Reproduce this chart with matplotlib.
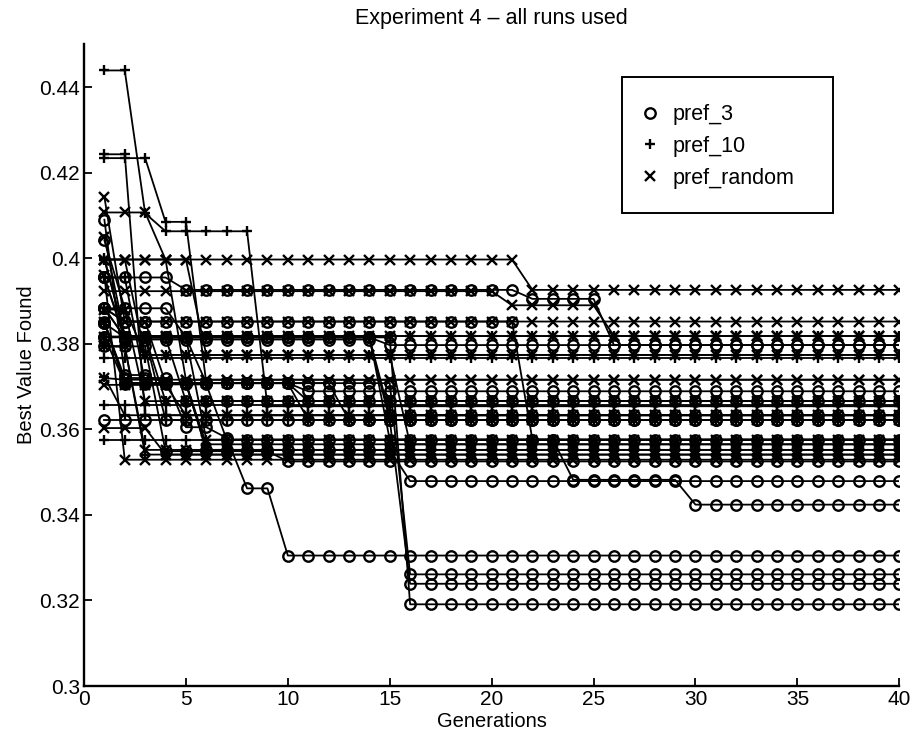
import numpy as np
import matplotlib
matplotlib.use("Agg")
import matplotlib.pyplot as plt
from matplotlib.lines import Line2D
from matplotlib.patches import Rectangle

plt.rcParams["font.family"] = ["Liberation Sans", "DejaVu Sans"]

# Каждый прогон: список (значение, сколько поколений держится)
GENERATIONS = np.arange(1, 41)

PREF_3_RUNS = [
    [(0.4090, 1), (0.3727, 2), (0.3708, 7), (0.3689, 30)],
    [(0.4042, 1), (0.3883, 3), (0.3815, 10), (0.3797, 26)],
    [(0.3955, 1), (0.3815, 13), (0.3633, 26)],
    [(0.3883, 1), (0.3852, 2), (0.3708, 9), (0.3622, 28)],
    [(0.3955, 4), (0.3926, 17), (0.3905, 4), (0.3797, 15)],
    [(0.3817, 1), (0.3815, 3), (0.3666, 36)],
    [(0.3622, 40)],
    [(0.3794, 3), (0.3549, 6), (0.3525, 31)],
    [(0.3848, 1), (0.3720, 3), (0.3605, 2), (0.3580, 1), (0.3462, 2), (0.3305, 31)],
    [(0.3883, 1), (0.3815, 4), (0.3708, 10), (0.3261, 25)],
    [(0.3955, 1), (0.3810, 13), (0.3622, 1), (0.3239, 25)],
    [(0.3848, 1), (0.3815, 14), (0.3191, 25)],
    [(0.3817, 1), (0.3708, 4), (0.3552, 10), (0.3479, 25)],
    [(0.3852, 1), (0.3705, 5), (0.3576, 17), (0.3482, 6), (0.3424, 11)],
    [(0.3883, 1), (0.3852, 20), (0.3576, 19)],
]

PREF_10_RUNS = [
    [(0.4439, 2), (0.4105, 1), (0.4063, 5), (0.3654, 32)],
    [(0.4243, 2), (0.3633, 38)],
    [(0.4234, 3), (0.4085, 2), (0.3708, 5), (0.3666, 30)],
    [(0.3657, 40)],
    [(0.3576, 40)],
    [(0.3766, 40)],
    [(0.3997, 1), (0.3818, 39)],
    [(0.3883, 1), (0.3815, 2), (0.3622, 37)],
    [(0.3955, 2), (0.3708, 3), (0.3565, 35)],
    [(0.3852, 1), (0.3708, 4), (0.3552, 35)],
    [(0.3817, 3), (0.3666, 37)],
    [(0.3723, 1), (0.3633, 39)],
    [(0.3794, 2), (0.3541, 38)],
    [(0.4000, 1), (0.3818, 13), (0.3576, 26)],
    [(0.3883, 2), (0.3774, 38)],
]

PREF_RANDOM_RUNS = [
    [(0.4143, 1), (0.3852, 39)],
    [(0.4107, 3), (0.3997, 18), (0.3926, 19)],
    [(0.3923, 20), (0.3890, 5), (0.3818, 15)],
    [(0.3997, 5), (0.3774, 35)],
    [(0.3997, 4), (0.3716, 36)],
    [(0.3720, 1), (0.3716, 39)],
    [(0.3704, 4), (0.3633, 36)],
    [(0.3603, 3), (0.3541, 37)],
    [(0.4050, 1), (0.3818, 39)],
    [(0.3880, 2), (0.3666, 38)],
    [(0.3852, 1), (0.3708, 9), (0.3622, 30)],
    [(0.3815, 5), (0.3576, 35)],
    [(0.3794, 2), (0.3552, 38)],
    [(0.3997, 2), (0.3774, 13), (0.3565, 25)],
    [(0.3960, 1), (0.3529, 39)],
]

GROUP_NAMES = ["pref_3", "pref_10", "pref_random"]
GROUP_MARKERS = ["o", "+", "x"]


def expand(run):
    """Разворачивает (значение, длина) в ряд по поколениям."""
    values = [v for v, _ in run]
    counts = [c for _, c in run]
    return np.repeat(values, counts)


fig = plt.figure(figsize=(9.13, 7.39), dpi=100)
ax = fig.add_axes([0.092, 0.0717, 0.893, 0.8683])

groups = [PREF_3_RUNS, PREF_10_RUNS, PREF_RANDOM_RUNS]
for runs, marker in zip(groups, GROUP_MARKERS):
    for run in runs:
        ax.plot(GENERATIONS, expand(run), "-", color="black", lw=1.3,
                marker=marker, ms=7.5, mfc="none", mec="black", mew=1.7)

ax.set_xlim(0, 40)
ax.set_ylim(0.3, 0.45)
ax.set_xticks(range(0, 41, 5))
ax.set_yticks([0.3, 0.32, 0.34, 0.36, 0.38, 0.4, 0.42, 0.44])
ax.set_yticklabels(["0.3", "0.32", "0.34", "0.36", "0.38", "0.4", "0.42", "0.44"])
ax.tick_params(direction="in", length=6, width=1.3, labelsize=15, pad=3)
ax.spines["top"].set_visible(False)
ax.spines["right"].set_visible(False)
ax.spines["left"].set_linewidth(1.7)
ax.spines["bottom"].set_linewidth(1.7)

ax.set_xlabel("Generations", fontsize=14.5, labelpad=2)
ax.set_ylabel("Best Value Found", fontsize=14.5, labelpad=2)
ax.set_title("Experiment 4 – all runs used", fontsize=15.5, pad=15)

# рамка легенды отдельно, чтобы совпали отступы
ax.add_patch(Rectangle((0.660, 0.7368), 0.259, 0.2118, transform=ax.transAxes,
                       facecolor="white", edgecolor="black", lw=1.4,
                       zorder=4, clip_on=False))
handles = [Line2D([], [], ls="none", marker=m, ms=7.5, mfc="none", mec="black",
                  mew=1.7, color="black") for m in GROUP_MARKERS]
leg = ax.legend(handles, GROUP_NAMES, loc="center left",
                bbox_to_anchor=(0.681, 0.841), fontsize=15.5, frameon=False,
                borderpad=0, borderaxespad=0, labelspacing=0.5,
                handletextpad=0.55, handlelength=1.0)
leg.set_zorder(5)

fig.savefig("out.png", dpi=100)
